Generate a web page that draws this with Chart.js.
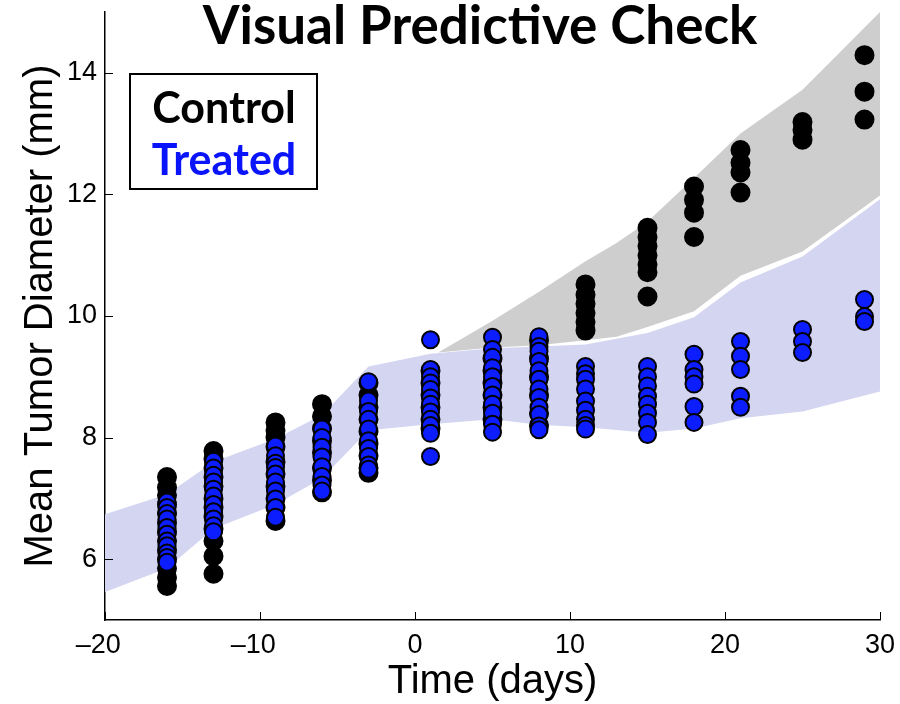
<!DOCTYPE html>
<html>
<head>
<meta charset="utf-8">
<script src="https://cdn.jsdelivr.net/npm/chart.js@4"></script>
<style>
  body { margin: 0; background: #fff; }
  #vpc { display: block; }
</style>
</head>
<body>
<canvas id="vpc" width="900" height="704"></canvas>
<script>
// sampling days of the tumour measurements
const sampleDays = [-16, -13, -9, -6, -3, 1, 5, 8, 11, 15, 18, 21, 25, 29];

// observed mean diameters (mm) per sampling day
const controlDiam = [
    [7.35, 7.18, 7.05, 6.9, 6.75, 6.6, 6.45, 6.3, 6.15, 6.0, 5.85, 5.7, 5.56],
    [7.78, 7.65, 7.5, 7.35, 7.2, 7.0, 6.85, 6.7, 6.5, 6.3, 6.05, 5.76],
    [8.25, 8.12, 8.0, 7.85, 7.6, 7.4, 7.2, 7.0, 6.85, 6.63],
    [8.55, 8.35, 8.15, 7.95, 7.75, 7.5, 7.3, 7.1],
    [8.9, 8.7, 8.5, 8.3, 8.1, 7.9, 7.7, 7.5, 7.42],
    [9.1, 8.9, 8.7, 8.5, 8.3, 8.15],
    [9.3, 9.1, 8.9, 8.7, 8.5, 8.3],
    [9.6, 9.3, 9.0, 8.7, 8.4, 8.2],
    [10.52, 10.35, 10.2, 10.05, 9.9, 9.76],
    [11.45, 11.3, 11.15, 11.0, 10.85, 10.72, 10.32],
    [12.13, 11.91, 11.7, 11.3],
    [12.73, 12.52, 12.36, 12.03],
    [13.19, 13.06, 12.9],
    [14.29, 13.69, 13.23]
];
const treatedDiam = [
    [6.94, 6.85, 6.75, 6.66, 6.52, 6.41, 6.3, 6.22, 6.1, 6.03, 5.95],
    [7.61, 7.5, 7.38, 7.27, 7.15, 7.04, 6.9, 6.78, 6.66, 6.55, 6.45],
    [7.86, 7.7, 7.58, 7.51, 7.4, 7.27, 7.12, 6.99, 6.85, 6.69],
    [8.14, 8.0, 7.84, 7.68, 7.52, 7.36, 7.22, 7.12],
    [8.92, 8.6, 8.43, 8.3, 8.14, 7.95, 7.82, 7.69, 7.55, 7.48],
    [9.61, 9.12, 9.0, 8.9, 8.79, 8.65, 8.55, 8.42, 8.3, 8.2, 8.07, 7.69],
    [9.65, 9.45, 9.32, 9.15, 9.0, 8.84, 8.7, 8.55, 8.4, 8.22, 8.09],
    [9.66, 9.5, 9.42, 9.25, 9.1, 8.96, 8.8, 8.66, 8.5, 8.38, 8.19, 8.13],
    [9.17, 9.05, 8.96, 8.8, 8.6, 8.45, 8.3, 8.2, 8.14],
    [9.17, 9.0, 8.85, 8.68, 8.55, 8.4, 8.25, 8.05],
    [9.37, 9.12, 9.0, 8.88, 8.51, 8.25],
    [9.58, 9.34, 9.12, 8.68, 8.5],
    [9.78, 9.58, 9.4],
    [10.27, 9.99, 9.91]
];

// simulated prediction intervals
const controlBandDays = [1.5, 5, 8, 11, 13, 15, 18, 21, 25, 30];
const controlBandLow  = [9.4, 9.48, 9.52, 9.6, 9.66, 9.82, 10.08, 10.66, 11.06, 11.98];
const controlBandHigh = [9.4, 9.92, 10.4, 10.9, 11.2, 11.55, 12.27, 13.0, 13.72, 15.0];

const treatedBandDays = [-20, -16, -13, -9, -6, -3, 1, 5, 8, 11, 15, 18, 21, 25, 30];
const treatedBandLow  = [5.46, 5.85, 6.5, 6.9, 7.33, 8.12, 8.22, 8.3, 8.21, 8.17, 8.08, 8.15, 8.32, 8.43, 8.76];
const treatedBandHigh = [6.74, 7.07, 7.6, 7.98, 8.37, 9.17, 9.38, 9.47, 9.5, 9.53, 9.72, 9.98, 10.55, 10.98, 11.92];

const xTicks = [-20, -10, 0, 10, 20, 30];
const yTicks = [6, 8, 10, 12, 14];

function toPoints(days, values) {
    return days.map((d, i) => ({ x: d, y: values[i] }));
}
function scatterPoints(days, groups) {
    let pts = [];
    days.forEach((d, i) => groups[i].forEach(v => pts.push({ x: d, y: v })));
    return pts;
}

const bandLine = {
    showLine: true,
    borderColor: 'transparent',
    borderWidth: 0,
    pointRadius: 0,
    tension: 0
};

// ticks drawn inward, the way the axes are styled
const inwardTicks = {
    id: 'inwardTicks',
    afterDatasetsDraw(chart) {
        const { ctx, chartArea, scales } = chart;
        ctx.save();
        ctx.strokeStyle = '#000';
        ctx.lineWidth = 1;
        xTicks.forEach(v => {
            const px = Math.round(scales.x.getPixelForValue(v)) + 0.5;
            ctx.beginPath();
            ctx.moveTo(px, chartArea.bottom);
            ctx.lineTo(px, chartArea.bottom - 8);
            ctx.stroke();
        });
        yTicks.forEach(v => {
            const py = Math.round(scales.y.getPixelForValue(v)) + 0.5;
            ctx.beginPath();
            ctx.moveTo(chartArea.left, py);
            ctx.lineTo(chartArea.left + 8, py);
            ctx.stroke();
        });
        ctx.restore();
    }
};

// heading and the boxed group key
const headingAndKey = {
    id: 'headingAndKey',
    afterDraw(chart) {
        const { ctx, chartArea } = chart;
        ctx.save();
        ctx.textAlign = 'center';
        ctx.textBaseline = 'alphabetic';
        ctx.fillStyle = '#000';
        ctx.font = 'bold 53px Lato';
        ctx.fillText('Visual Predictive Check', 480, 44);

        const bx = chartArea.left + 25, by = chartArea.top + 62;
        ctx.lineWidth = 2;
        ctx.strokeStyle = '#000';
        ctx.strokeRect(bx, by, 187, 115);
        ctx.font = 'bold 43px Lato';
        ctx.fillText('Control', bx + 94, by + 49);
        ctx.fillStyle = 'rgb(10, 20, 250)';
        ctx.fillText('Treated', bx + 94, by + 101);
        ctx.restore();
    }
};

const axisFont = { family: '"Liberation Sans", Arial, sans-serif', size: 27 };
const titleFont = { family: '"Liberation Sans", Arial, sans-serif', size: 40, lineHeight: 1.1 };

// keep the plot frame fixed; tick labels may hang over the edges
function noScalePadding(s) {
    s.paddingTop = 0;
    s.paddingBottom = 0;
    s.paddingLeft = 0;
    s.paddingRight = 0;
}

new Chart(document.getElementById('vpc'), {
    type: 'line',
    data: {
        datasets: [
            Object.assign({ data: toPoints(controlBandDays, controlBandLow), order: 4, fill: false }, bandLine),
            Object.assign({ data: toPoints(controlBandDays, controlBandHigh), order: 4,
                fill: { target: '-1' }, backgroundColor: 'rgb(206, 206, 206)' }, bandLine),
            Object.assign({ data: toPoints(treatedBandDays, treatedBandLow), order: 3, fill: false }, bandLine),
            Object.assign({ data: toPoints(treatedBandDays, treatedBandHigh), order: 3,
                fill: { target: '-1' }, backgroundColor: 'rgb(211, 213, 241)' }, bandLine),
            {
                data: scatterPoints(sampleDays, controlDiam),
                order: 2,
                showLine: false,
                pointRadius: 9,
                pointBorderWidth: 2,
                pointBackgroundColor: '#000',
                pointBorderColor: '#000'
            },
            {
                data: scatterPoints(sampleDays, treatedDiam),
                order: 1,
                showLine: false,
                pointRadius: 8.5,
                pointBorderWidth: 2,
                pointBackgroundColor: 'rgb(12, 30, 255)',
                pointBorderColor: '#000'
            }
        ]
    },
    options: {
        responsive: false,
        animation: false,
        events: [],
        layout: { padding: { top: 12, right: 20, left: 0, bottom: 0 } },
        scales: {
            x: {
                type: 'linear',
                min: -20,
                max: 30,
                afterFit: s => { s.height = 84; noScalePadding(s); },
                afterBuildTicks: s => { s.ticks = xTicks.map(v => ({ value: v })); },
                grid: { display: true, drawOnChartArea: false, drawTicks: false },
                border: { display: true, color: '#000', width: 1.5 },
                ticks: {
                    color: '#000',
                    font: axisFont,
                    padding: 9,
                    maxRotation: 0,
                    // en space after negatives keeps the digits centred on the tick
                    callback: v => (v < 0 ? '\u2013' + Math.abs(v) + '\u2002' : String(v))
                },
                title: { display: true, text: 'Time (days)', color: '#000', font: titleFont, padding: 0 }
            },
            y: {
                min: 5,
                max: 15,
                afterFit: s => { s.width = 105; noScalePadding(s); },
                afterBuildTicks: s => { s.ticks = yTicks.map(v => ({ value: v })); },
                grid: { display: true, drawOnChartArea: false, drawTicks: false },
                border: { display: true, color: '#000', width: 1.5 },
                ticks: { color: '#000', font: axisFont, padding: 8 },
                title: { display: true, text: 'Mean Tumor Diameter (mm)', color: '#000', font: titleFont,
                    padding: { top: 19, bottom: 0 } }
            }
        },
        plugins: {
            legend: { display: false },
            tooltip: { enabled: false },
            filler: { propagate: false }
        }
    },
    plugins: [inwardTicks, headingAndKey]
});
</script>
</body>
</html>
